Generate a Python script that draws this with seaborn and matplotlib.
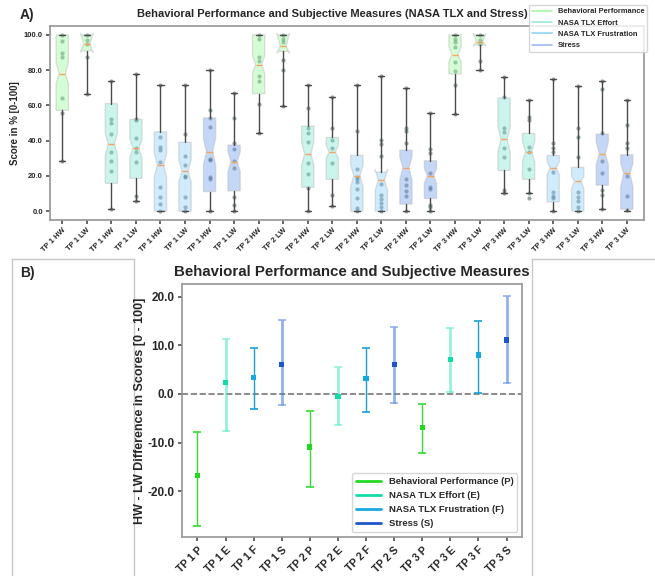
import numpy as np
import pandas as pd
import matplotlib
matplotlib.use("Agg")
import matplotlib.pyplot as plt
import seaborn as sns
from matplotlib.lines import Line2D
from matplotlib.ticker import FormatStrFormatter

sns.set_theme(style="white")
plt.rcParams["font.family"] = ["Liberation Sans", "DejaVu Sans"]
plt.rcParams["font.weight"] = "bold"

# ---- Panel A data ----
measures = ["Behavioral Performance", "NASA TLX Effort", "NASA TLX Frustration", "Stress"]
tps = ["TP 1", "TP 2", "TP 3"]
workload = ["HW", "LW"]

box_q1 = [57.2, 91.0, 15.8, 18.6, 0.0, 0.0, 11.1, 11.5,
          66.7, 90.6, 13.6, 18.1, 0.0, 0.0, 4.0, 7.2,
          77.8, 94.3, 23.1, 18.1, 5.3, 0.0, 14.7, 1.1]
box_med = [77.9, 94.9, 38.0, 35.6, 26.2, 22.8, 33.7, 28.1,
           83.0, 93.6, 32.4, 33.5, 20.1, 17.5, 24.7, 20.0,
           88.7, 96.2, 40.7, 33.7, 24.7, 16.9, 32.6, 21.5]
box_q3 = [100.0, 100.0, 61.0, 52.1, 45.0, 39.1, 52.9, 37.5,
          100.0, 100.0, 48.2, 41.8, 31.6, 22.2, 34.6, 28.6,
          100.0, 100.0, 64.2, 44.1, 31.6, 24.8, 43.7, 32.0]
box_lo = [28.6, 66.6, 1.3, 6.0, 0.0, 0.0, 0.0, 0.0,
          44.4, 59.8, 0.0, 3.0, 0.0, 0.0, 0.0, 0.0,
          55.3, 80.0, 10.2, 10.2, 0.0, 0.0, 1.1, 0.0]
box_hi = [100.0, 100.0, 73.8, 77.9, 71.7, 71.7, 80.2, 67.0,
          100.0, 100.0, 71.7, 64.9, 71.7, 76.8, 70.0, 55.9,
          100.0, 100.0, 75.8, 62.9, 75.1, 71.0, 73.8, 62.9]
box_cilo = [72.3, 90.0, 31.8, 29.9, 19.6, 16.8, 26.2, 22.4,
            77.9, 89.5, 26.2, 29.9, 13.9, 12.0, 17.7, 15.8,
            84.6, 93.5, 33.7, 28.1, 20.5, 13.0, 26.2, 13.9]
box_cihi = [84.5, 100.8, 44.1, 41.2, 32.8, 29.0, 41.2, 33.7,
            88.3, 100.8, 39.4, 37.5, 26.2, 23.7, 30.9, 24.3,
            93.6, 100.8, 47.8, 39.4, 28.1, 19.6, 39.4, 27.1]

box_points = [
    [100, 96.6, 89.5, 87.2, 64.4, 55.4, 28.6],
    [100, 96.8, 95, 87.2, 66.6],
    [73.8, 52.5, 50.1, 44, 33.7, 28.6, 22.8, 1.3],
    [77.9, 52.1, 51.5, 41.5, 36.1, 33.5, 27.7, 8.5, 6.0],
    [71.7, 41.8, 36.5, 34.5, 28.1, 13.6, 8.1, 4.0, 0],
    [71.7, 43.6, 31.4, 26.2, 20.0, 19.5, 8.1, 2.4, 0],
    [80.2, 57.6, 53, 47.8, 29.4, 29, 19.5, 18, 0],
    [67.0, 52.9, 38.9, 35, 28.6, 24.3, 8.3, 3.6, 0],
    [100, 97.4, 87.2, 85.3, 76.9, 73.6, 61.0, 44.4],
    [100, 97.4, 95.9, 85.6, 80.2, 59.8],
    [71.7, 58.6, 46.9, 44.1, 39.4, 27.5, 21.1, 13.0, 0],
    [64.9, 47.4, 40.3, 36.0, 27.1, 9.2, 3.0],
    [71.7, 45.3, 23.9, 19.6, 18.2, 16.8, 12.6, 7.3, 1.7, 0],
    [76.8, 40.5, 38.2, 31.3, 15.3, 9.2, 7.0, 4.5, 2.6, 0],
    [70.0, 46.9, 45.3, 38.8, 18.3, 14.9, 11.7, 8.8, 0],
    [55.9, 35.0, 32.8, 21.5, 13.6, 12.6, 3.6, 2.6, 0],
    [100, 97.7, 95.9, 93.0, 84.6, 79.3, 71.4, 55.3],
    [100, 97.2, 95, 85.1, 80.0],
    [75.8, 64.8, 46.9, 45.0, 35.6, 30.5, 12.0, 10.2],
    [62.9, 53.4, 51.9, 36.5, 33.7, 23.9, 10.2, 7.2],
    [75.1, 38.8, 35.6, 33.7, 22.4, 11.1, 8.8, 7.7, 0],
    [71.0, 47.2, 42.1, 30.9, 11.1, 8.3, 5.5, 2.6, 0],
    [73.8, 69.1, 44.1, 28.6, 21.8, 11.8, 9.2, 1.1],
    [62.9, 48.8, 38.4, 36.0, 19.8, 8.8, 0.4],
]

# ---- Panel B data ----
diff_labels = ["TP 1 P", "TP 1 E", "TP 1 F", "TP 1 S",
               "TP 2 P", "TP 2 E", "TP 2 F", "TP 2 S",
               "TP 3 P", "TP 3 E", "TP 3 F", "TP 3 S"]
diff_mean = [-16.8, 2.3, 3.4, 6.0, -10.9, -0.6, 3.2, 6.0, -6.9, 7.0, 8.0, 11.1]
diff_low = [-27.1, -7.6, -3.0, -2.3, -19.1, -6.4, -3.8, -1.8, -12.2, 0.4, 0.1, 2.3]
diff_high = [-7.8, 11.2, 9.5, 15.3, -3.4, 5.6, 9.5, 13.7, -2.1, 13.5, 15.0, 20.2]
diff_names = ["Behavioral Performance (P)", "NASA TLX Effort (E)",
              "NASA TLX Frustration (F)", "Stress (S)"]

# colours
box_colors = ["#98fb98", "#7fe8d0", "#87cefa", "#6f9bea"]
legA_colors = ["#a8f5a8", "#9ae8d8", "#8fd5f5", "#9dbaf0"]
pt_colors = ["#22d822", "#10dca8", "#18a8e0", "#1f55cc"]
bar_colors = ["#33dd33", "#40e8c0", "#1aa0d8", "#4a80e0"]
bar_alpha = [1.0, 0.55, 1.0, 0.6]
bar_lw = [1.0, 2.0, 1.0, 2.0]

# long table for the strip points
rows = []
group_ids = []
tick_labels = []
for t in range(3):
    for m in range(4):
        for w in range(2):
            gid = f"{tps[t]} {measures[m]} {workload[w]}"
            group_ids.append(gid)
            tick_labels.append(f"{tps[t]} {workload[w]}")
for i, pts in enumerate(box_points):
    for v in pts:
        rows.append({"group": group_ids[i], "score": v})
df = pd.DataFrame(rows)

fig = plt.figure(figsize=(6.55, 5.76), dpi=100)

# background frames around panel B
for rect in ([12 / 655, -0.05, 122 / 655, (576 - 259) / 576 + 0.05],
             [532 / 655, -0.05, 0.25, (576 - 259) / 576 + 0.05]):
    bg = fig.add_axes(rect)
    bg.set_xticks([])
    bg.set_yticks([])
    for s in bg.spines.values():
        s.set_color("#c8c8c8")
        s.set_linewidth(1)

# ---- Panel A ----
axA = fig.add_axes([50 / 655, 1 - 220 / 576, 594 / 655, 194 / 576])
sns.stripplot(data=df, x="group", y="score", order=group_ids, jitter=False,
              color="#2f4f4f", alpha=0.5, size=3, ax=axA, zorder=1)

stats = []
for i in range(24):
    stats.append(dict(med=box_med[i], q1=box_q1[i], q3=box_q3[i],
                      whislo=box_lo[i], whishi=box_hi[i],
                      cilo=box_cilo[i], cihi=box_cihi[i], fliers=[]))
bp = axA.bxp(stats, positions=range(24), widths=0.5, shownotches=True,
             patch_artist=True, showfliers=False, manage_ticks=False,
             boxprops=dict(edgecolor="#b5b5b5", linewidth=1.0),
             whiskerprops=dict(color="#4a4a4a", linewidth=1.0),
             capprops=dict(color="#4a4a4a", linewidth=1.0),
             medianprops=dict(color="#f4a460", linewidth=1.0))
for i, patch in enumerate(bp["boxes"]):
    patch.set_facecolor(box_colors[(i // 2) % 4])
    patch.set_alpha(0.4)
    patch.set_zorder(2)

axA.set_xlim(-0.5, 23.7)
axA.set_ylim(-5, 105)
axA.set_yticks([0, 20, 40, 60, 80, 100])
axA.yaxis.set_major_formatter(FormatStrFormatter("%.1f"))
axA.set_xticks(range(24))
axA.set_xticklabels(tick_labels, rotation=45, ha="right", rotation_mode="anchor")
axA.tick_params(axis="both", labelsize=5.5, length=3, pad=2, color="#555555",
                bottom=True, left=True)
axA.set_xlabel("")
axA.set_ylabel("Score in % [0-100]", fontsize=7, fontweight="bold", labelpad=3)
for s in axA.spines.values():
    s.set_color("#999999")
fig.text(332 / 655, 1 - 14 / 576,
         "Behavioral Performance and Subjective Measures (NASA TLX and Stress)",
         fontsize=8.0, fontweight="bold", ha="center", va="center")
handlesA = [Line2D([0], [0], color=c, lw=1.2) for c in legA_colors]
axA.legend(handlesA, measures, loc="upper right", bbox_to_anchor=(1.012, 1.128),
           frameon=True, handlelength=2.6, borderpad=0.4,
           labelspacing=0.55, prop={"weight": "bold", "size": 5.4})

# ---- Panel B ----
axB = fig.add_axes([182 / 655, 1 - 537 / 576, 340 / 655, 253 / 576])
meas_idx = [k % 4 for k in range(12)]
dfB = pd.DataFrame({"label": diff_labels, "mean": diff_mean,
                    "measure": [diff_names[k] for k in meas_idx]})
for k in range(12):
    m = meas_idx[k]
    axB.errorbar(k, diff_mean[k],
                 yerr=[[diff_mean[k] - diff_low[k]], [diff_high[k] - diff_mean[k]]],
                 fmt="none", ecolor=bar_colors[m], elinewidth=bar_lw[m],
                 capsize=3, capthick=1.2, alpha=bar_alpha[m], zorder=2)
sns.scatterplot(data=dfB, x="label", y="mean", hue="measure", hue_order=diff_names,
                palette=pt_colors, marker="s", s=14, edgecolor="none",
                legend=False, ax=axB, zorder=3)
axB.axhline(0, color="#777777", ls="--", lw=1.2, zorder=1)
axB.set_xlim(-0.55, 11.55)
axB.set_ylim(-29.4, 22.6)
axB.set_yticks([-20, -10, 0, 10, 20])
axB.yaxis.set_major_formatter(FormatStrFormatter("%.1f"))
axB.set_xticks(range(12))
axB.set_xticklabels(diff_labels, rotation=45, ha="right", rotation_mode="anchor")
axB.tick_params(axis="y", labelsize=8.5, length=3, pad=2.5, color="#555555", left=True)
axB.tick_params(axis="x", labelsize=7.6, length=3, pad=2.5, color="#555555", bottom=True)
axB.set_xlabel("")
axB.set_ylabel("HW - LW Difference in Scores [0 - 100]", fontsize=9, fontweight="bold",
               labelpad=1)
axB.set_title("Behavioral Performance and Subjective Measures",
              fontsize=10.8, fontweight="bold", pad=6)
for s in axB.spines.values():
    s.set_color("#999999")
handlesB = [Line2D([0], [0], color=c, lw=2) for c in pt_colors]
axB.legend(handlesB, diff_names, loc="lower right",
           prop={"weight": "bold", "size": 6.8}, handlelength=2.7, labelspacing=0.55)

fig.text(20 / 655, 1 - 15 / 576, "A)", fontsize=10, fontweight="bold", va="center")
fig.text(20 / 655, 1 - 273 / 576, "B)", fontsize=10, fontweight="bold", va="center")

fig.savefig("out.png", dpi=100)
